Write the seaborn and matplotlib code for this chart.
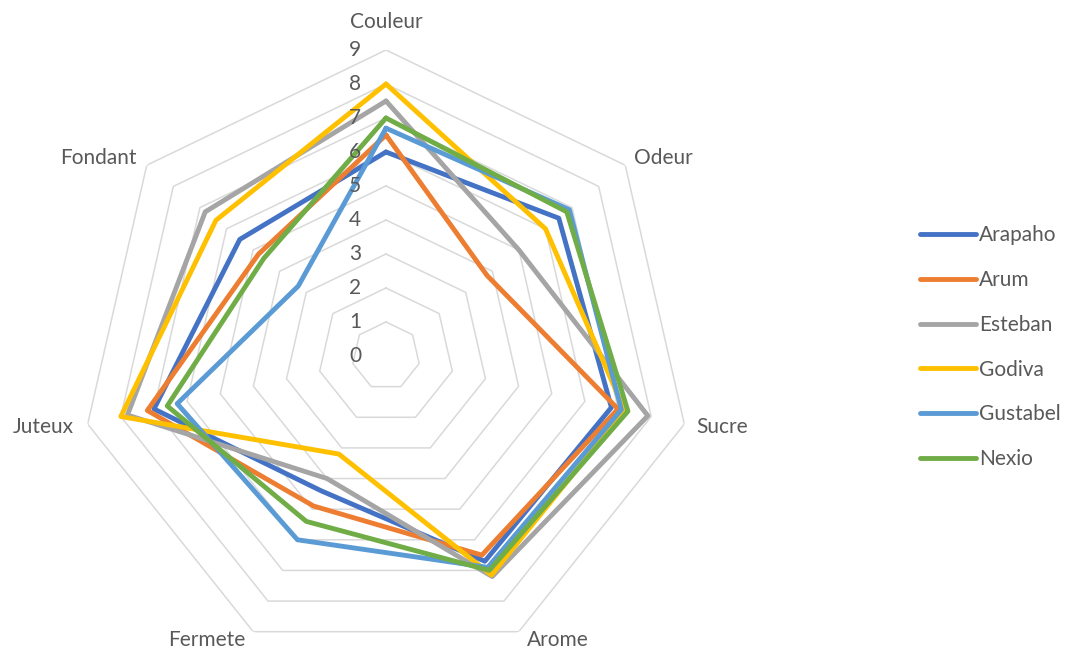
import numpy as np
import pandas as pd
import matplotlib
matplotlib.use("Agg")
import matplotlib.pyplot as plt
from matplotlib.lines import Line2D
import seaborn as sns

categories = ["Couleur", "Odeur", "Sucre", "Arome", "Fermete", "Juteux", "Fondant"]
series_names = ["Arapaho", "Arum", "Esteban", "Godiva", "Gustabel", "Nexio"]
arapaho = [6.0, 6.5, 6.8, 6.7, 4.4, 7.0, 5.5]
arum = [6.5, 3.8, 7.0, 6.5, 4.9, 7.2, 4.8]
esteban = [7.5, 5.0, 7.9, 7.2, 4.0, 7.8, 6.8]
godiva = [8.0, 6.0, 7.2, 7.15, 3.2, 8.0, 6.4]
gustabel = [6.7, 6.9, 7.1, 6.9, 6.0, 6.3, 3.3]
nexio = [7.0, 6.8, 7.3, 7.0, 5.4, 6.6, 4.6]
r_ticks = [0, 1, 2, 3, 4, 5, 6, 7, 8, 9]

colors = ["#4472C4", "#ED7D31", "#A5A5A5", "#FFC000", "#5B9BD5", "#70AD47"]
grid_color = "#D9D9D9"
text_color = "#595959"

sns.set_theme(style="white")
plt.rcParams["font.family"] = ["Lato", "DejaVu Sans"]

n = len(categories)
angles = np.linspace(0, 2 * np.pi, n, endpoint=False)
angles_closed = np.append(angles, 2 * np.pi)

rows = []
for name, vals in zip(series_names, [arapaho, arum, esteban, godiva, gustabel, nexio]):
    vals_closed = list(vals) + [vals[0]]
    for i, (a, v) in enumerate(zip(angles_closed, vals_closed)):
        rows.append({"series": name, "angle": a, "value": v, "order": i})
df = pd.DataFrame(rows)

W, H = 1083, 655
fig = plt.figure(figsize=(W / 100, H / 100), dpi=100)
cx, cy, R = 386, 356, 306
ax = fig.add_axes([(cx - R) / W, (H - cy - R) / H, 2 * R / W, 2 * R / H], projection="polar")
ax.set_theta_offset(np.pi / 2)
ax.set_theta_direction(-1)
ax.patch.set_alpha(0)

# polygon grid
for r in r_ticks[1:]:
    ax.plot(angles_closed, [r] * len(angles_closed), color=grid_color, lw=1.1, zorder=0)

sns.lineplot(data=df, x="angle", y="value", hue="series", hue_order=series_names,
             palette=colors, sort=False, estimator=None, linewidth=3.5,
             legend=False, ax=ax, zorder=3)
for line in ax.get_lines()[len(r_ticks) - 1:]:
    line.set_solid_joinstyle("round")

ax.set_ylim(0, max(r_ticks))
ax.set_xticks([])
ax.set_yticks([])
ax.grid(False)
ax.spines["polar"].set_visible(False)
ax.set_xlabel("")
ax.set_ylabel("")

fs = 15
# radial tick labels
for r in r_ticks:
    ax.annotate(str(r), xy=(0, r), xytext=(-31, 0), textcoords="offset pixels",
                ha="center", va="center", fontsize=fs, color=text_color)

# category labels
label_offsets = [(0, 28, "center"), (9, 7, "left"), (12, -3, "left"), (8, -8, "left"),
                 (-8, -8, "right"), (-14, -3, "right"), (-10, 7, "right")]
for a, lab, (dx, dy, ha) in zip(angles, categories, label_offsets):
    ax.annotate(lab, xy=(a, max(r_ticks)), xytext=(dx, dy), textcoords="offset pixels",
                ha=ha, va="center", fontsize=fs, color=text_color, annotation_clip=False)

handles = [Line2D([0], [0], color=c, lw=3.5, solid_capstyle="round") for c in colors]
fig.legend(handles, series_names, loc="upper left",
           bbox_to_anchor=(912 / W, 1 - 217 / H), frameon=False, fontsize=fs,
           labelcolor=text_color, handlelength=2.65, handletextpad=0.15,
           labelspacing=1.19, borderaxespad=0)

fig.savefig("out.png", dpi=100)
